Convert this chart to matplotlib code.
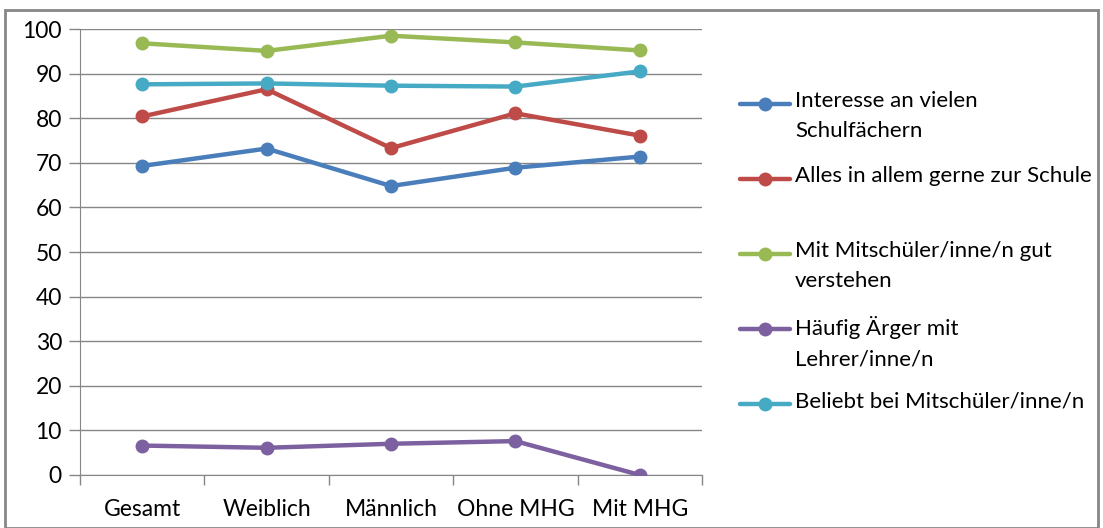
import matplotlib.pyplot as plt
from matplotlib.patches import Rectangle
from matplotlib.lines import Line2D

plt.rcParams['font.family'] = ['Lato', 'DejaVu Sans']

gruppen = ['Gesamt', 'Weiblich', 'Männlich', 'Ohne MHG', 'Mit MHG']

interesse = [69.3, 73.2, 64.8, 68.9, 71.4]
gerne_schule = [80.4, 86.5, 73.3, 81.1, 76.1]
gut_verstehen = [96.8, 95.1, 98.5, 97.0, 95.2]
aerger_lehrer = [6.6, 6.1, 7.0, 7.6, 0.0]
beliebt = [87.6, 87.8, 87.3, 87.1, 90.5]

reihen = [
    ('Interesse an vielen\nSchulfächern', interesse, '#4A7EBB'),
    ('Alles in allem gerne zur Schule', gerne_schule, '#BE4B48'),
    ('Mit Mitschüler/inne/n gut\nverstehen', gut_verstehen, '#98B954'),
    ('Häufig Ärger mit\nLehrer/inne/n', aerger_lehrer, '#7D60A0'),
    ('Beliebt bei Mitschüler/inne/n', beliebt, '#46AAC5'),
]

fs = 16.5

fig = plt.figure(figsize=(11.03, 5.28), dpi=100)
ax = fig.add_axes([0.0725, 0.1004, 0.564, 0.8446])

x = range(len(gruppen))
for name, werte, farbe in reihen:
    ax.plot(x, werte, color=farbe, lw=3.2, marker='o', ms=9, zorder=3,
            solid_capstyle='round')

ax.set_xlim(-0.5, len(gruppen) - 0.5)
ax.set_ylim(0, 100)
ax.set_yticks(range(0, 101, 10))
ax.set_xticks(list(x))
ax.set_xticklabels(gruppen)
ax.set_xticks([i - 0.5 for i in range(len(gruppen) + 1)], minor=True)
ax.tick_params(axis='x', which='major', length=0, pad=17, labelsize=fs)
ax.tick_params(axis='x', which='minor', length=7, color='#868686', width=1)
ax.tick_params(axis='y', length=8, color='#868686', width=1, labelsize=fs, pad=5)
ax.grid(axis='y', color='#868686', lw=1)
for s in ['top', 'right']:
    ax.spines[s].set_visible(False)
for s in ['left', 'bottom']:
    ax.spines[s].set_color('#868686')

# Legende rechts, Einträge im festen Abstand
y0 = 1 - 104 / 528
dy = 75 / 528
for i, (name, werte, farbe) in enumerate(reihen):
    yy = y0 - i * dy
    fig.add_artist(Line2D([740 / 1103, 790 / 1103], [yy, yy], color=farbe, lw=3.2,
                          solid_capstyle='round'))
    fig.add_artist(Line2D([765 / 1103], [yy], color=farbe, marker='o', ms=9))
    fig.text(795 / 1103, yy + 13 / 528, name, fontsize=16, va='top', ha='left',
             linespacing=1.65)

fig.add_artist(Rectangle((5 / 1103, 0), 1093 / 1103, 518 / 528, fill=False,
                         edgecolor='#868686', lw=2, transform=fig.transFigure))

fig.savefig('out.png', dpi=100)
